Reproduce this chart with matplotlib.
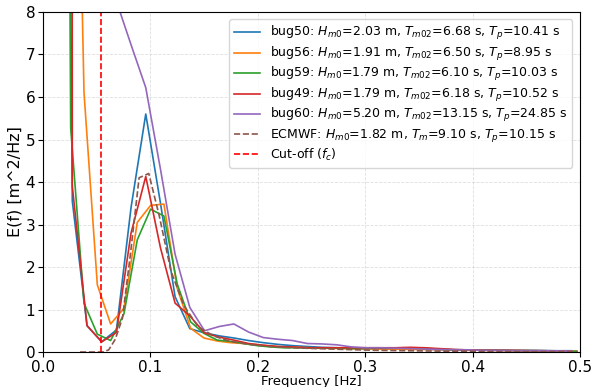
import matplotlib
matplotlib.use("Agg")
import matplotlib.pyplot as plt

# Frequency grids [Hz]
freq_a = [0.0, 0.0137, 0.0273, 0.0410, 0.0547, 0.0684, 0.0820, 0.0957, 0.1094, 0.1230,
          0.1367, 0.1504, 0.1641, 0.1777, 0.1914, 0.2051, 0.2187, 0.2324, 0.2461,
          0.2598, 0.2734, 0.2871, 0.3008, 0.3145, 0.3281, 0.3418, 0.3555, 0.3691,
          0.3828, 0.3965, 0.4102, 0.4238, 0.4375, 0.4512, 0.4648, 0.4785, 0.4922]
freq_b = [0.0134, 0.0258, 0.0382, 0.0506, 0.0630, 0.0754, 0.0878, 0.1002, 0.1126, 0.1250,
          0.1374, 0.1498, 0.1622, 0.1746, 0.1870, 0.1994, 0.2118, 0.2242, 0.2366,
          0.2490, 0.2614, 0.2738, 0.2862, 0.2986, 0.3110, 0.3234, 0.3358, 0.3482,
          0.3606, 0.3730, 0.3854, 0.3978, 0.4102, 0.4226, 0.4350, 0.4474, 0.4598,
          0.4722, 0.4846, 0.4970]
freq_ecmwf = [0.0345, 0.0380, 0.0418, 0.0459, 0.0505, 0.0556, 0.0612, 0.0673, 0.0740,
              0.0814, 0.0895, 0.0985, 0.1083, 0.1192, 0.1311, 0.1442, 0.1586, 0.1745,
              0.1919, 0.2111, 0.2323, 0.2555, 0.2810, 0.3091, 0.3400, 0.3740, 0.4114,
              0.4526, 0.4979]

# Spectra E(f) [m^2/Hz]
bug50 = [None, 50, 3.55, 0.62, 0.24, 0.52, 3.4, 5.6, 3.5, 1.3, 0.55, 0.45, 0.38, 0.33,
         0.27, 0.22, 0.18, 0.15, 0.13, 0.11, 0.10, 0.09, 0.08, 0.075, 0.07, 0.07, 0.065,
         0.06, 0.055, 0.05, 0.05, 0.045, 0.04, 0.04, 0.035, 0.03, 0.03]
bug49 = [0.0, 900, 3.9, 0.62, 0.24, 0.46, 2.8, 4.13, 2.45, 1.15, 0.85, 0.45, 0.35, 0.28,
         0.20, 0.16, 0.13, 0.12, 0.10, 0.10, 0.10, 0.10, 0.10, 0.10, 0.10, 0.11, 0.10,
         0.08, 0.06, 0.05, 0.04, 0.04, 0.035, 0.03, 0.03, 0.025, 0.02]
bug60 = [None, 300, 100, 30, 12, 8.25, 7.23, 6.22, 4.3, 2.3, 1.05, 0.5, 0.6, 0.66, 0.47,
         0.34, 0.30, 0.27, 0.20, 0.19, 0.17, 0.12, 0.10, 0.10, 0.09, 0.08, 0.07, 0.06,
         0.05, 0.05, 0.04, 0.04, 0.035, 0.03, 0.03, 0.025, 0.02]
bug56 = [100, 21, 6.1, 1.58, 0.66, 1.03, 3.05, 3.45, 3.48, 1.5, 0.56, 0.33, 0.26, 0.22,
         0.20, 0.17, 0.14, 0.12, 0.11, 0.10, 0.09, 0.085, 0.08, 0.075, 0.07, 0.07, 0.065,
         0.06, 0.06, 0.055, 0.05, 0.05, 0.045, 0.04, 0.04, 0.035, 0.03, 0.03, 0.025, 0.02]
bug59 = [60, 5.27, 1.15, 0.42, 0.27, 0.9, 2.64, 3.36, 3.2, 1.6, 0.71, 0.44, 0.28, 0.25,
         0.20, 0.15, 0.12, 0.10, 0.10, 0.09, 0.09, 0.09, 0.08, 0.08, 0.09, 0.09, 0.10,
         0.09, 0.08, 0.06, 0.05, 0.05, 0.04, 0.04, 0.035, 0.03, 0.03, 0.025, 0.02, 0.02]
ecmwf = [0.0, 0.0, 0.0, 0.0, 0.0, 0.0, 0.05, 0.3, 0.8, 2.3, 4.1, 4.2, 3.2, 1.9, 1.1,
         0.6, 0.38, 0.25, 0.18, 0.13, 0.10, 0.08, 0.06, 0.04, 0.03, 0.02, 0.015, 0.01,
         0.007]
f_cut = 0.054

labels = [
    r'bug50: $H_{m0}$=2.03 m, $T_{m02}$=6.68 s, $T_p$=10.41 s',
    r'bug56: $H_{m0}$=1.91 m, $T_{m02}$=6.50 s, $T_p$=8.95 s',
    r'bug59: $H_{m0}$=1.79 m, $T_{m02}$=6.10 s, $T_p$=10.03 s',
    r'bug49: $H_{m0}$=1.79 m, $T_{m02}$=6.18 s, $T_p$=10.52 s',
    r'bug60: $H_{m0}$=5.20 m, $T_{m02}$=13.15 s, $T_p$=24.85 s',
    r'ECMWF: $H_{m0}$=1.82 m, $T_m$=9.10 s, $T_p$=10.15 s',
    r'Cut-off ($f_c$)',
]


def clean(f, v):
    pts = [(a, b) for a, b in zip(f, v) if b is not None]
    return [p[0] for p in pts], [p[1] for p in pts]


fig = plt.figure(figsize=(5.97, 3.87), dpi=100)
ax = fig.add_axes([0.072, 0.0904, 0.8995, 0.8786])

ax.plot(*clean(freq_a, bug50), color='C0', lw=1.2, label=labels[0])
ax.plot(*clean(freq_b, bug56), color='C1', lw=1.2, label=labels[1])
ax.plot(*clean(freq_b, bug59), color='C2', lw=1.2, label=labels[2])
ax.plot(*clean(freq_a, bug49), color='C3', lw=1.2, label=labels[3])
ax.plot(*clean(freq_a, bug60), color='C4', lw=1.2, label=labels[4])
ax.plot(freq_ecmwf, ecmwf, color='C5', lw=1.2, ls='--', label=labels[5])
ax.axvline(f_cut, color='red', lw=1.2, ls='--', label=labels[6])

ax.set_xlim(0, 0.5)
ax.set_ylim(0, 8)
ax.tick_params(labelsize=11, pad=2)
ax.set_xlabel('Frequency [Hz]', fontsize=9.5, labelpad=0)
ax.set_ylabel('E(f) [m^2/Hz]', fontsize=11.5, labelpad=2)
ax.grid(True, ls='--', lw=0.6, alpha=0.4)
ax.legend(loc='upper right', fontsize=9, labelspacing=0.2, handlelength=2.1,
          borderaxespad=0.6)

fig.savefig('out.png', dpi=100)
